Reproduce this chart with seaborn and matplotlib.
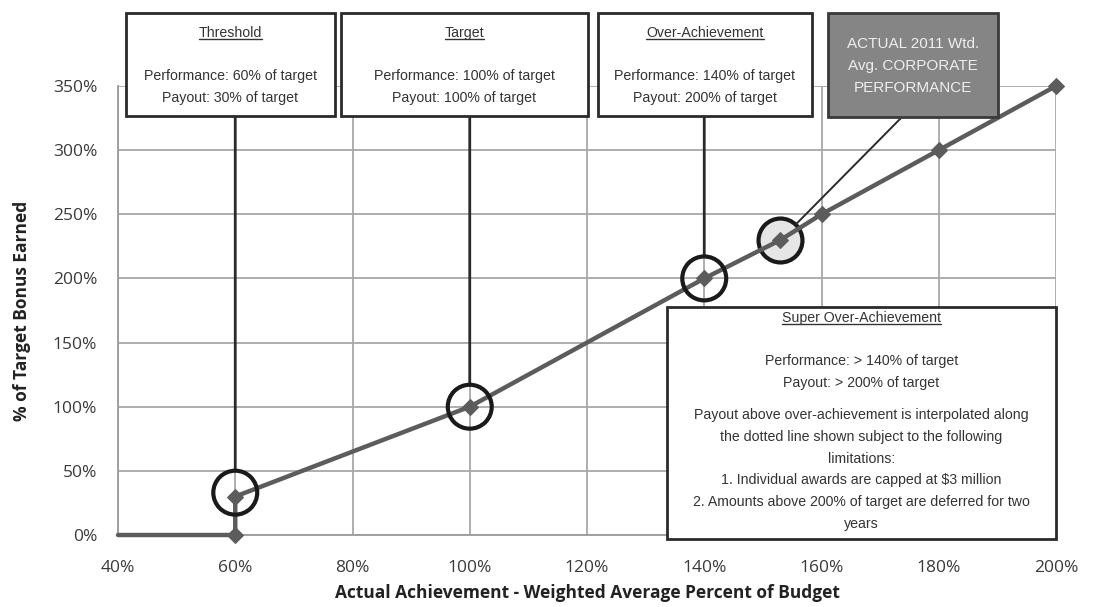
import numpy as np
import pandas as pd
import matplotlib
matplotlib.use('Agg')
import matplotlib.pyplot as plt
from matplotlib.patches import Rectangle
from matplotlib.lines import Line2D
from matplotlib.ticker import PercentFormatter, MultipleLocator
import seaborn as sns

sns.set_style('whitegrid')

# payout curve (achievement vs % of target bonus)
achievement = [0.40, 0.60, 0.60, 1.00, 1.40, 1.53, 1.60, 1.80, 2.00]
payout = [0.00, 0.00, 0.30, 1.00, 2.00, 2.30, 2.50, 3.00, 3.50]

# highlighted points
circle_x = [0.60, 1.00, 1.40]
circle_y = [0.33, 1.00, 2.00]
actual_x = 1.53
actual_y = 2.30

box_titles = ['Threshold', 'Target', 'Over-Achievement']
box_lines = [['Performance: 60% of target', 'Payout: 30% of target'],
             ['Performance: 100% of target', 'Payout: 100% of target'],
             ['Performance: 140% of target', 'Payout: 200% of target']]
actual_text = ['ACTUAL 2011 Wtd.', 'Avg. CORPORATE', 'PERFORMANCE']
super_title = 'Super Over-Achievement'
super_lines = ['Performance: > 140% of target',
               'Payout: > 200% of target',
               None,
               'Payout above over-achievement is interpolated along',
               'the dotted line shown subject to the following',
               'limitations:',
               '1. Individual awards are capped at $3 million',
               '2. Amounts above 200% of target are deferred for two',
               'years']

narrow = ['Liberation Sans Narrow', 'Liberation Sans', 'DejaVu Sans']
tickfont = ['Open Sans', 'DejaVu Sans']
box_fs = 10.2

df = pd.DataFrame({'ach': achievement, 'pay': payout})

fig = plt.figure(figsize=(11.06, 6.07), dpi=100)
ax = fig.add_axes([118 / 1106, 1 - 535 / 607, 938 / 1106, 449 / 607])

line_col = '#5c5c5c'
sns.lineplot(data=df, x='ach', y='pay', sort=False, estimator=None, ax=ax, color=line_col,
             linewidth=3.2, marker='D', markersize=8.5, markeredgecolor=line_col,
             markevery=list(range(1, len(achievement))), clip_on=False, zorder=4)

ax.set_xlim(0.4, 2.0)
ax.set_ylim(0, 3.5)
ax.xaxis.set_major_locator(MultipleLocator(0.2))
ax.yaxis.set_major_locator(MultipleLocator(0.5))
ax.xaxis.set_major_formatter(PercentFormatter(xmax=1, decimals=0))
ax.yaxis.set_major_formatter(PercentFormatter(xmax=1, decimals=0))
ax.grid(True, color='#a8a8a8', linewidth=1.3)
for s in ['top', 'right']:
    ax.spines[s].set_visible(False)
for s in ['left', 'bottom']:
    ax.spines[s].set_color('#9a9a9a')
    ax.spines[s].set_linewidth(1.3)
ax.tick_params(axis='both', length=6, width=1.2, color='#9a9a9a',
               labelsize=12.5, labelcolor='#3a3a3a')
ax.tick_params(axis='x', pad=12)
ax.tick_params(axis='y', pad=9)
for lab in ax.get_xticklabels() + ax.get_yticklabels():
    lab.set_family(tickfont)
ax.set_xlabel('Actual Achievement - Weighted Average Percent of Budget',
              fontsize=12.5, fontweight='bold', family=tickfont, color='#222222', labelpad=6)
ax.set_ylabel('% of Target Bonus Earned', fontsize=12.5, fontweight='bold',
              family=tickfont, color='#222222', labelpad=16)

# circles
ax.scatter(circle_x, circle_y, s=1000, facecolors='none', edgecolors='#1a1a1a',
           linewidths=3, zorder=5, clip_on=False)
ax.scatter([actual_x], [actual_y], s=1000, facecolors='#e6e6e6', edgecolors='#1a1a1a',
           linewidths=3, zorder=3, clip_on=False)


def px(x):
    return (x - 118) / 938


def py(y):
    return (535 - y) / 449


underline = []

# top boxes
box_px = [(126, 335), (341, 588), (598, 812)]
for (x0, x1), title, lines, cx, cy in zip(box_px, box_titles, box_lines, circle_x, circle_y):
    ax.add_patch(Rectangle((px(x0), py(116)), px(x1) - px(x0), py(13) - py(116),
                           transform=ax.transAxes, facecolor='white', edgecolor='#2a2a2a',
                           linewidth=2, clip_on=False, zorder=6))
    xm = (px(x0) + px(x1)) / 2
    t = ax.text(xm, py(33), title, transform=ax.transAxes, ha='center', va='center',
                fontsize=box_fs, family=narrow, color='#333333', zorder=7)
    underline.append(t)
    ax.text(xm, py(76), lines[0], transform=ax.transAxes, ha='center', va='center',
            fontsize=box_fs, family=narrow, color='#333333', zorder=7)
    ax.text(xm, py(98), lines[1], transform=ax.transAxes, ha='center', va='center',
            fontsize=box_fs, family=narrow, color='#333333', zorder=7)
    ax.annotate('', xy=(cx, cy), xycoords='data', xytext=(cx, py(116)),
                textcoords=('data', 'axes fraction'),
                arrowprops=dict(arrowstyle='-', color='#2a2a2a', lw=2, shrinkA=0, shrinkB=16),
                zorder=4, annotation_clip=False)

# actual performance box
ax.add_patch(Rectangle((px(828), py(117)), px(998) - px(828), py(13) - py(117),
                       transform=ax.transAxes, facecolor='#858585', edgecolor='#3a3a3a',
                       linewidth=2, clip_on=False, zorder=6))
for i, s in enumerate(actual_text):
    ax.text((px(828) + px(998)) / 2, py(44 + 22 * i), s, transform=ax.transAxes,
            ha='center', va='center', fontsize=11, family=narrow, color='#eeeeee', zorder=7)
ax.annotate('', xy=(actual_x, actual_y), xycoords='data',
            xytext=(px(902), py(117)), textcoords='axes fraction',
            arrowprops=dict(arrowstyle='-', color='#2a2a2a', lw=1.4, shrinkA=0, shrinkB=16),
            zorder=4, annotation_clip=False)

# super over-achievement box
ax.add_patch(Rectangle((px(667), py(539)), px(1056) - px(667), py(307) - py(539),
                       transform=ax.transAxes, facecolor='white', edgecolor='#2a2a2a',
                       linewidth=2, clip_on=False, zorder=6))
sx = (px(667) + px(1056)) / 2
t = ax.text(sx, py(318), super_title, transform=ax.transAxes, ha='center', va='center',
            fontsize=box_fs, family=narrow, color='#333333', zorder=7)
underline.append(t)
ypos = 361
for s in super_lines:
    if s is None:
        ypos += 11
        continue
    ax.text(sx, py(ypos), s, transform=ax.transAxes, ha='center', va='center',
            fontsize=box_fs, family=narrow, color='#333333', zorder=7)
    ypos += 21.7

# underline titles
fig.canvas.draw()
r = fig.canvas.get_renderer()
for t in underline:
    bb = t.get_window_extent(r)
    y = bb.y0 + 1
    fig.add_artist(Line2D([bb.x0 / fig.bbox.width, bb.x1 / fig.bbox.width],
                          [y / fig.bbox.height, y / fig.bbox.height],
                          color='#333333', lw=1, zorder=8))

fig.savefig('out.png', dpi=100)
